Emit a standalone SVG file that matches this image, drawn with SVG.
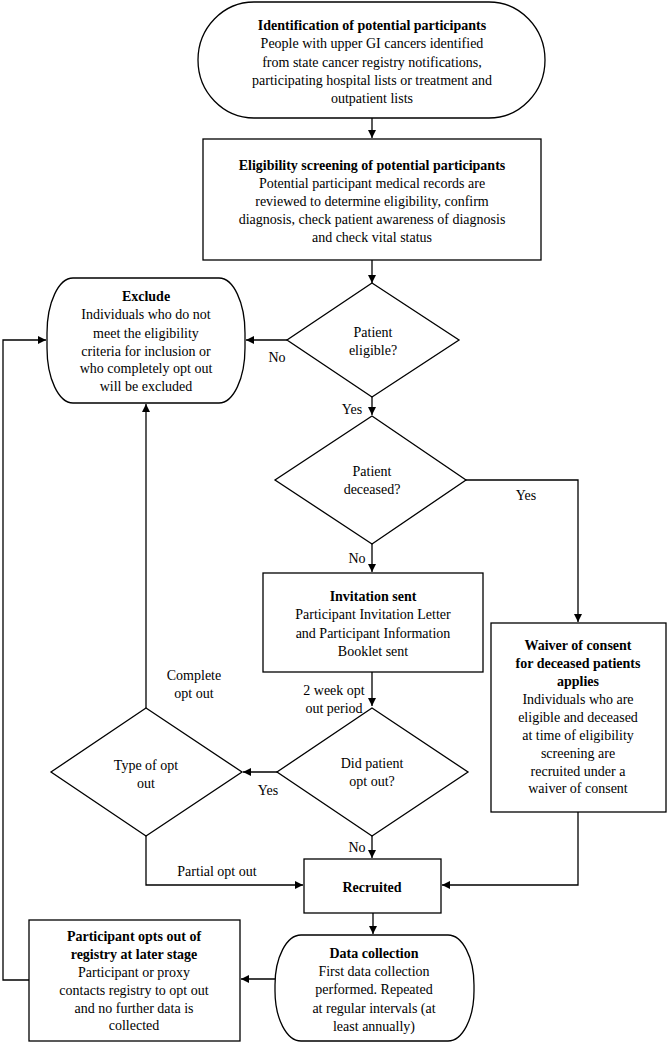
<svg xmlns="http://www.w3.org/2000/svg" width="669" height="1043" viewBox="0 0 669 1043">
<style>
.s{fill:#fff;stroke:#000;stroke-width:1.3}
.c{fill:none;stroke:#000;stroke-width:1.3}
text{font-family:"Liberation Serif","Times New Roman",serif;font-size:14px;fill:#000;text-anchor:middle}
.b{font-weight:bold}
</style>
<defs>
<marker id="ah" markerUnits="userSpaceOnUse" markerWidth="9" markerHeight="9" refX="8" refY="4" orient="auto">
<path d="M0,0 L8,4 L0,8 z" fill="#000"/>
</marker>
</defs>
<rect width="669" height="1043" fill="#fff"/>
<g id="connectors">
<path class="c" d="M372,118 V138" marker-end="url(#ah)"/>
<path class="c" d="M372,260 V283" marker-end="url(#ah)"/>
<path class="c" d="M287,340 H246" marker-end="url(#ah)"/>
<path class="c" d="M372,397 V415" marker-end="url(#ah)"/>
<path class="c" d="M466,480 H578 V622" marker-end="url(#ah)"/>
<path class="c" d="M372,544 V572" marker-end="url(#ah)"/>
<path class="c" d="M372,672 V706" marker-end="url(#ah)"/>
<path class="c" d="M277,772 H243" marker-end="url(#ah)"/>
<path class="c" d="M146,708 V404" marker-end="url(#ah)"/>
<path class="c" d="M372,836 V858" marker-end="url(#ah)"/>
<path class="c" d="M146,836 V885 H303" marker-end="url(#ah)"/>
<path class="c" d="M578,812 V885 H442" marker-end="url(#ah)"/>
<path class="c" d="M373,913 V934" marker-end="url(#ah)"/>
<path class="c" d="M275,979 H241" marker-end="url(#ah)"/>
<path class="c" d="M29,980 H3 V340 H46" marker-end="url(#ah)"/>
<text x="277" y="362">No</text>
<text x="352" y="414">Yes</text>
<text x="526" y="500">Yes</text>
<text x="357" y="563">No</text>
<text x="334" y="695">2 week opt</text>
<text x="334" y="713">out period</text>
<text x="268" y="795">Yes</text>
<text x="357" y="852">No</text>
<text x="194" y="680">Complete</text>
<text x="194" y="698">opt out</text>
<text x="217" y="876">Partial opt out</text>
</g>
<g id="identification">
<rect class="s" x="198" y="2" width="347" height="116" rx="56" ry="58"/>
<text class="b" x="372" y="30">Identification of potential participants</text>
<text x="372" y="48">People with upper GI cancers identified</text>
<text x="372" y="67">from state cancer registry notifications,</text>
<text x="372" y="85">participating hospital lists or treatment and</text>
<text x="372" y="103">outpatient lists</text>
</g>
<g id="eligibility">
<rect class="s" x="203" y="139" width="338" height="121"/>
<text class="b" x="372" y="170">Eligibility screening of potential participants</text>
<text x="372" y="188">Potential participant medical records are</text>
<text x="372" y="206">reviewed to determine eligibility, confirm</text>
<text x="372" y="224">diagnosis, check patient awareness of diagnosis</text>
<text x="372" y="242">and check vital status</text>
</g>
<g id="eligible">
<path class="s" d="M372,283 L459,340 L372,397 L287,340 Z"/>
<text x="373" y="337">Patient</text>
<text x="373" y="355">eligible?</text>
</g>
<g id="exclude">
<rect class="s" x="47" y="278" width="198" height="125" rx="26" ry="55"/>
<text class="b" x="146" y="301">Exclude</text>
<text x="146" y="319">Individuals who do not</text>
<text x="146" y="338">meet the eligibility</text>
<text x="146" y="356">criteria for inclusion or</text>
<text x="146" y="373">who completely opt out</text>
<text x="146" y="391">will be excluded</text>
</g>
<g id="deceased">
<path class="s" d="M372,416 L466,480 L372,544 L275,480 Z"/>
<text x="372" y="476">Patient</text>
<text x="372" y="494">deceased?</text>
</g>
<g id="invitation">
<rect class="s" x="263" y="573" width="220" height="99"/>
<text class="b" x="373" y="601">Invitation sent</text>
<text x="373" y="619">Participant Invitation Letter</text>
<text x="373" y="638">and Participant Information</text>
<text x="373" y="656">Booklet sent</text>
</g>
<g id="waiver">
<rect class="s" x="491" y="623" width="175" height="189"/>
<text class="b" x="578" y="650">Waiver of consent</text>
<text class="b" x="578" y="668">for deceased patients</text>
<text class="b" x="578" y="686">applies</text>
<text x="578" y="704">Individuals who are</text>
<text x="578" y="722">eligible and deceased</text>
<text x="578" y="740">at time of eligibility</text>
<text x="578" y="758">screening are</text>
<text x="578" y="776">recruited under a</text>
<text x="578" y="793">waiver of consent</text>
</g>
<g id="optout">
<path class="s" d="M372,708 L468,772 L372,836 L277,772 Z"/>
<text x="372" y="768">Did patient</text>
<text x="372" y="786">opt out?</text>
</g>
<g id="type">
<path class="s" d="M146,708 L242,772 L146,836 L51,772 Z"/>
<text x="146" y="770">Type of opt</text>
<text x="146" y="788">out</text>
</g>
<g id="recruited">
<rect class="s" x="304" y="859" width="137" height="54"/>
<text class="b" x="372" y="892">Recruited</text>
</g>
<g id="datacollection">
<rect class="s" x="275" y="935" width="199" height="106" rx="26" ry="50"/>
<text class="b" x="374" y="958">Data collection</text>
<text x="374" y="976">First data collection</text>
<text x="374" y="994">performed. Repeated</text>
<text x="374" y="1013">at regular intervals (at</text>
<text x="374" y="1031">least annually)</text>
</g>
<g id="laterstage">
<rect class="s" x="29" y="920" width="211" height="121"/>
<text class="b" x="134" y="941">Participant opts out of</text>
<text class="b" x="134" y="959">registry at later stage</text>
<text x="134" y="977">Participant or proxy</text>
<text x="134" y="995">contacts registry to opt out</text>
<text x="134" y="1013">and no further data is</text>
<text x="134" y="1030">collected</text>
</g>
</svg>
